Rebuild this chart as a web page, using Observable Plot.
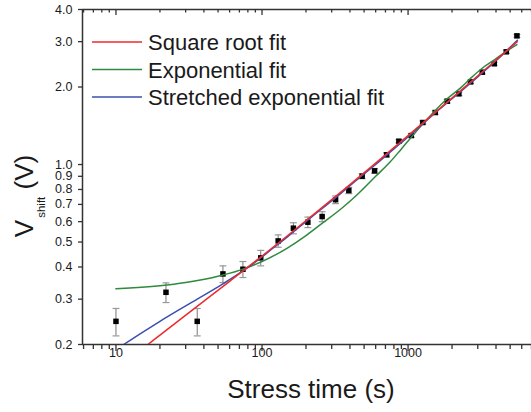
<!DOCTYPE html>
<html>
<head>
<meta charset="utf-8">
<script src="https://cdn.jsdelivr.net/npm/d3@7"></script>
<script src="https://cdn.jsdelivr.net/npm/@observablehq/plot@0.6"></script>
<style>
  body { margin: 0; background: #fff; }
  #chart svg { display: block; }
</style>
</head>
<body>
<div id="chart"></div>
<script>
// Measured data (stress time in s, threshold voltage shift in V, error bars in V)
const stressTime = [10, 22, 36, 54, 74, 98, 129, 164, 206, 258, 319, 393, 485, 590, 713, 865, 1052, 1262, 1535, 1854, 2228, 2680, 3221, 3891, 4705, 5563];
const vShift     = [0.246, 0.319, 0.246, 0.376, 0.392, 0.434, 0.505, 0.566, 0.597, 0.628, 0.730, 0.793, 0.901, 0.945, 1.091, 1.232, 1.296, 1.456, 1.592, 1.762, 1.882, 2.094, 2.284, 2.462, 2.740, 3.16];
const vErr       = [0.030, 0.028, 0.030, 0.028, 0.028, 0.030, 0.028, 0.028, 0.028, 0.028, 0.025, 0.022, 0.020, 0.020, 0.020, 0.018, 0.020, 0.020, 0.025, 0.030, 0.030, 0.030, 0.035, 0.035, 0.040, 0.040];

// Fit curves
const sqrtT = [10, 16, 40, 60, 100, 150, 250, 400, 600, 1000, 1500, 2500, 4000, 5600];
const sqrtV = [0.160, 0.197, 0.295, 0.352, 0.441, 0.530, 0.671, 0.836, 1.013, 1.295, 1.576, 2.021, 2.544, 3.00];
const expT  = [10, 20, 30, 50, 70, 100, 150, 200, 260, 350, 450, 600, 750, 900, 1100, 1300, 1500, 1850, 2300, 2700, 3200, 3900, 4700, 5563];
const expV  = [0.329, 0.338, 0.348, 0.368, 0.388, 0.420, 0.475, 0.530, 0.593, 0.675, 0.765, 0.900, 1.020, 1.150, 1.315, 1.465, 1.600, 1.800, 1.990, 2.170, 2.360, 2.550, 2.750, 2.920];
const strT  = [10, 15, 20, 36, 54, 74, 88, 120, 150, 220, 300, 450, 600, 800, 1000, 1500, 2000, 3000, 4000, 5600];
const strV  = [0.191, 0.222, 0.246, 0.300, 0.344, 0.386, 0.414, 0.475, 0.525, 0.628, 0.722, 0.876, 1.000, 1.150, 1.280, 1.570, 1.800, 2.190, 2.530, 3.040];

// Ticks and labels
const xMajor = [10, 100, 1000];
const xMinor = [6, 7, 8, 9, 20, 30, 40, 50, 60, 70, 80, 90, 200, 300, 400, 500, 600, 700, 800, 900, 2000, 3000, 4000, 5000, 6000, 7000];
const yTicks = [0.2, 0.3, 0.4, 0.5, 0.6, 0.7, 0.8, 0.9, 1.0, 2.0, 3.0, 4.0];
const legendLabels = ["Square root fit", "Exponential fit", "Stretched exponential fit"];
const legendColors = ["#ec2a2e", "#2e8a3e", "#3d4fae"];
const xLabel = "Stress time (s)";

const points = stressTime.map((t, i) => ({t, v: vShift[i], lo: vShift[i] - vErr[i], hi: vShift[i] + vErr[i]}));
const toRows = (ts, vs) => ts.map((t, i) => ({t, v: vs[i]}));

const capSymbol = {
  draw(context, size) {
    const w = Math.sqrt(size) / 2;
    context.moveTo(-w, 0);
    context.lineTo(w, 0);
  }
};

const axisColor = "#333";
const textColor = "#1a1a1a";
const fontFam = "'Liberation Sans', Arial, Helvetica, sans-serif";
const fmt1 = d3.format(".1f");

const chart = Plot.plot({
  width: 531,
  height: 412,
  marginLeft: 82,
  marginRight: 0,
  marginTop: 9,
  marginBottom: 68,
  style: {fontFamily: fontFam, fontSize: "12.5px", background: "#fff", color: textColor},
  x: {type: "log", domain: [5.9, 7000], axis: null},
  y: {type: "log", domain: [0.2, 4.0], axis: null},
  marks: [
    // bottom axis ticks (outward)
    Plot.axisX(xMajor, {anchor: "bottom", tickSize: 7, fill: "none", stroke: axisColor, strokeWidth: 1.3, label: null}),
    Plot.axisX(xMinor, {anchor: "bottom", tickSize: 5, fill: "none", stroke: axisColor, strokeWidth: 1.3, label: null}),
    // bottom tick labels
    Plot.text(xMajor, {x: d => d, frameAnchor: "bottom", lineAnchor: "top", dy: 4, text: d => String(d), fontSize: 12.5, fill: textColor}),
    // top inward ticks
    Plot.tickX(xMajor, {x: d => d, insetBottom: 329, stroke: axisColor, strokeWidth: 1.3}),
    Plot.tickX(xMinor, {x: d => d, insetBottom: 331.5, stroke: axisColor, strokeWidth: 1.3}),
    // left axis ticks and labels
    Plot.axisY(yTicks, {anchor: "left", tickSize: 4, fill: "none", stroke: axisColor, strokeWidth: 1.3, label: null}),
    Plot.text(yTicks, {y: d => d, frameAnchor: "left", dx: -10, textAnchor: "end", text: d => fmt1(d), fontSize: 12.5, fill: textColor}),
    // frame lines
    Plot.ruleY([4.0], {stroke: axisColor, strokeWidth: 1.5}),
    Plot.ruleY([0.2], {stroke: axisColor, strokeWidth: 1.5}),
    Plot.ruleX([5.9], {stroke: axisColor, strokeWidth: 1.5}),
    // error bars
    Plot.ruleX(points, {x: "t", y1: "lo", y2: "hi", stroke: "#777", strokeWidth: 1}),
    Plot.dot(points, {x: "t", y: "lo", symbol: capSymbol, r: 3.9, stroke: "#999", strokeWidth: 1.2, fill: "none"}),
    Plot.dot(points, {x: "t", y: "hi", symbol: capSymbol, r: 3.9, stroke: "#999", strokeWidth: 1.2, fill: "none"}),
    // data points
    Plot.dot(points, {x: "t", y: "v", symbol: "square", r: 3.1, fill: "#000", stroke: "none"}),
    // fits
    Plot.line(toRows(expT, expV), {x: "t", y: "v", stroke: legendColors[1], strokeWidth: 1.5, curve: "monotone-x", clip: true}),
    Plot.line(toRows(strT, strV), {x: "t", y: "v", stroke: legendColors[2], strokeWidth: 1.5, curve: "monotone-x", clip: true}),
    Plot.line(toRows(sqrtT, sqrtV), {x: "t", y: "v", stroke: legendColors[0], strokeWidth: 1.5, curve: "monotone-x", clip: true})
  ]
});

const svg = d3.select(chart);

// Legend
const legendTop = 42, legendStep = 27.5;
const lg = svg.append("g").attr("font-family", fontFam).attr("text-anchor", "start");
legendLabels.forEach((label, i) => {
  const y = legendTop + i * legendStep;
  lg.append("line").attr("x1", 92).attr("x2", 142).attr("y1", y).attr("y2", y)
    .attr("stroke", legendColors[i]).attr("stroke-width", 1.5);
  lg.append("text").attr("x", 148).attr("y", y + 8).attr("font-size", 22)
    .attr("text-anchor", "start").attr("fill", textColor).text(label);
});

// Y-axis title with subscript
const yt = svg.append("text")
  .attr("transform", "translate(33,196) rotate(-90)")
  .attr("text-anchor", "middle")
  .attr("font-family", fontFam)
  .attr("font-size", 26)
  .attr("fill", textColor);
yt.append("tspan").text("V");
yt.append("tspan").attr("font-size", 11.5).attr("dy", 12).attr("dx", 2).text("shift");
yt.append("tspan").attr("dy", -12).text(" (V)");

// X-axis title
svg.append("text")
  .attr("x", 311).attr("y", 398)
  .attr("text-anchor", "middle")
  .attr("font-family", fontFam)
  .attr("font-size", 26)
  .attr("fill", textColor)
  .text(xLabel);

document.getElementById("chart").appendChild(chart);
</script>
</body>
</html>
